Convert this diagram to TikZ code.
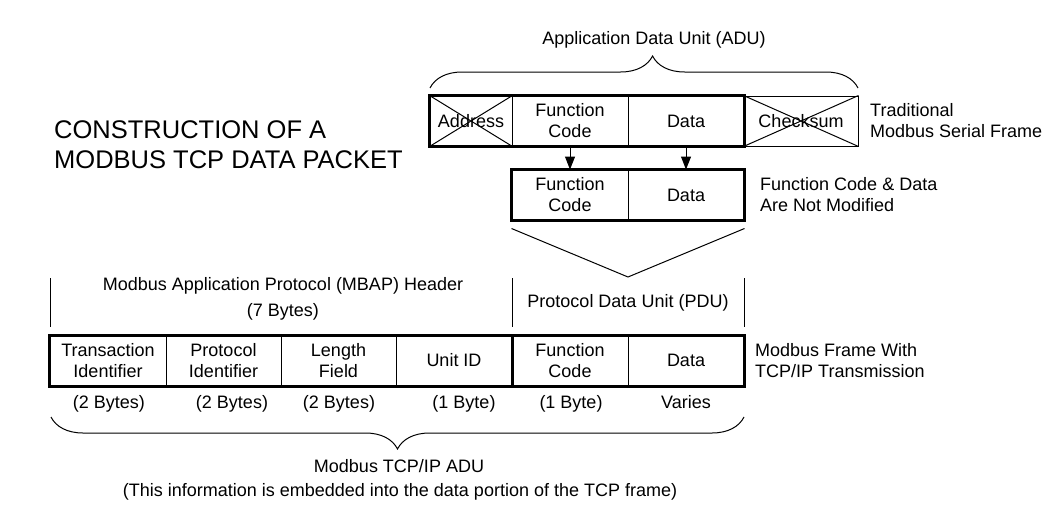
\documentclass[tikz,border=0pt]{standalone}
\usepackage{fontspec}
\setmainfont{Liberation Sans}
\usetikzlibrary{arrows.meta, positioning, decorations.pathreplacing}

\begin{document}
\begin{tikzpicture}[
  x=1pt, y=-1pt,
  cell/.style={draw, line width=1pt, rectangle, minimum height=50pt, inner sep=0pt, align=center, font=\fontsize{18}{21}\selectfont},
  txt/.style={inner sep=0pt, font=\fontsize{18}{21}\selectfont},
  bytes/.style={txt, anchor=base},
  frame/.style={line width=3pt},
  thin/.style={line width=1pt},
  curly/.style={thin, decorate, decoration={brace, amplitude=32pt, aspect=#1}},
  curly/.default=0.5,
  >={Triangle[length=13pt, width=10pt]}
]
  \useasboundingbox (0,0) rectangle (1059,530);

  \node[anchor=west, align=left, inner sep=0pt, font=\fontsize{25.5}{30}\selectfont] (title) at (54,145) {CONSTRUCTION OF A\\MODBUS TCP DATA PACKET};

  \node[cell, minimum width=82pt]  (addr) at (471,121) {Address};
  \node[cell, minimum width=116pt] (fc1)  at (570,121) {Function\\Code};
  \node[cell, minimum width=116pt] (dat1) at (686,121) {Data};
  \node[cell, minimum width=114pt] (chk)  at (801,121) {Checksum};
  \draw[thin] (addr.north west) -- (addr.south east) (addr.south west) -- (addr.north east);
  \draw[thin] (chk.north west) -- (chk.south east) (chk.south west) -- (chk.north east);
  \draw[frame] (addr.north west) rectangle (dat1.south east);

  \draw[curly=0.52] (430,88) -- (858,88);
  \node[txt] (adu1) at (654,40) {Application Data Unit (ADU)};
  \node[txt, anchor=west, align=left] (serial) at (870,121) {Traditional\\Modbus Serial Frame};

  \node[cell, minimum width=116pt] (fc2)  at (570,195) {Function\\Code};
  \node[cell, minimum width=116pt] (dat2) at (686,195) {Data};
  \draw[frame] (fc2.north west) rectangle (dat2.south east);
  \node[txt, anchor=west, align=left] (keep) at (760,195) {Function Code \& Data\\Are Not Modified};

  \draw[->, thin] (fc1) -- (fc2);
  \draw[->, thin] (dat1) -- (dat2);

  \coordinate (vtip) at (628,277);
  \draw[thin] ([yshift=-8pt]fc2.south west) -- (vtip) -- ([yshift=-8pt]dat2.south east);

  \draw[thin] (50,278) -- (50,327);
  \draw[thin] (512,278) -- (512,327);
  \draw[thin] (744,278) -- (744,327);
  \node[txt, align=center, font=\fontsize{18}{26}\selectfont] (mbap) at (283,299) {Modbus Application Protocol (MBAP) Header\\(7 Bytes)};
  \node[txt] (pdu) at (628,303) {Protocol Data Unit (PDU)};

  \node[cell, minimum width=116pt] (tid)  at (108,360.5) {Transaction\\Identifier};
  \node[cell, minimum width=115pt] (pid)  at (223.5,360.5) {Protocol\\Identifier};
  \node[cell, minimum width=115pt] (len)  at (338.5,360.5) {Length\\Field};
  \node[cell, minimum width=116pt] (uid)  at (454,360.5) {Unit ID};
  \node[cell, minimum width=116pt] (fc3)  at (570,360.5) {Function\\Code};
  \node[cell, minimum width=116pt] (dat3) at (686,360.5) {Data};
  \draw[frame] (tid.north west) rectangle (dat3.south east);
  \draw[frame] (uid.north east) -- (uid.south east);
  \node[txt, anchor=west, align=left] (tcp) at (755,360.5) {Modbus Frame With\\TCP/IP Transmission};

  \node[bytes] (tidb) at (109,408) {(2 Bytes)};
  \node[bytes] (pidb) at (232,408) {(2 Bytes)};
  \node[bytes] (lenb) at (339,408) {(2 Bytes)};
  \node[bytes] (uidb) at (464,408) {(1 Byte)};
  \node[bytes] (fc3b) at (571,408) {(1 Byte)};
  \node[bytes] (dat3b) at (686,408) {Varies};

  \draw[curly] (744,417) -- (51,417);
  \node[txt] (adu2) at (399,466) {Modbus TCP/IP ADU};
  \node[txt] (note) at (400,492) {(This information is embedded into the data portion of the TCP frame)};
\end{tikzpicture}
\end{document}
